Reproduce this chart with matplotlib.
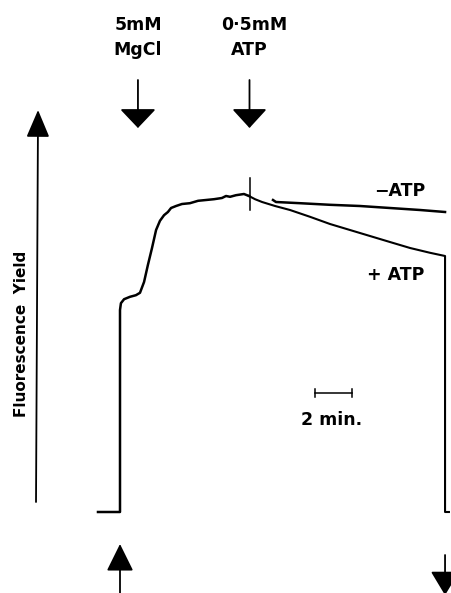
import numpy as np
import matplotlib
matplotlib.use('Agg')
import matplotlib.pyplot as plt

# time in minutes (light on at 0), fluorescence yield in arbitrary units
rise_t = [-1.19, 0.0, 0.0, 0.05, 0.22, 0.54, 0.86, 1.08, 1.30, 1.51, 1.73,
          1.95, 2.16, 2.38, 2.59, 2.76, 3.03, 3.35, 3.78, 4.22, 4.65, 5.08,
          5.51, 5.73, 5.95, 6.27, 6.70, 6.97]
rise_f = [0, 0, 50.5, 52.2, 53.2, 53.8, 54.2, 54.8, 57.5, 61.8, 66.0,
          70.5, 72.8, 74.2, 75.0, 76.0, 76.5, 77.0, 77.2, 77.8, 78.0, 78.2,
          78.5, 79.0, 78.8, 79.2, 79.5, 79.0]

plus_atp_t = [6.97, 7.30, 7.68, 8.38, 9.19, 10.27, 11.35, 12.43, 13.51,
              14.59, 15.68, 16.76, 17.57, 17.57, 17.78]
plus_atp_f = [79.0, 78.2, 77.5, 76.5, 75.5, 73.8, 72.0, 70.5, 69.0,
              67.5, 66.0, 64.8, 64.0, 0, 0]

minus_atp_t = [8.27, 8.43, 9.73, 11.35, 12.97, 14.59, 16.22, 17.57]
minus_atp_f = [78.0, 77.5, 77.2, 76.8, 76.5, 76.0, 75.5, 75.0]

mgcl_t = 0.97
atp_t = 7.0
atp_spike = [75.5, 83.5]

plt.rcParams['font.family'] = ['DejaVu Sans']

fig = plt.figure(figsize=(4.51, 5.93), dpi=100)
ax = fig.add_axes([0, 0, 1, 1])
ax.set_xlim(-120 / 18.5, 331 / 18.5)
ax.set_ylim(-81 / 4, 512 / 4)
ax.axis('off')

lw = 1.8
ax.plot(rise_t, rise_f, color='black', lw=lw, solid_joinstyle='round')
ax.plot(plus_atp_t, plus_atp_f, color='black', lw=1.5)
ax.plot(minus_atp_t, minus_atp_f, color='black', lw=lw)
ax.plot([atp_t, atp_t], atp_spike, color='black', lw=1.1)


def arrow(x0, y0, x1, y1, hl, hw, lw=1.3):
    ax.annotate('', xy=(x1, y1), xytext=(x0, y0), annotation_clip=False,
                arrowprops=dict(arrowstyle='-|>,head_length=%g,head_width=%g' % (hl, hw),
                                mutation_scale=20, lw=lw, color='black',
                                shrinkA=0, shrinkB=0))


# addition arrows at top
arrow(mgcl_t, 108, mgcl_t, 96, 0.6, 0.57)
arrow(atp_t, 108, atp_t, 96, 0.6, 0.55)
# y axis arrow
arrow(-4.54, 2.5, -4.43, 100.5, 0.85, 0.36)
# light on / light off arrows
arrow(0.0, -22, 0.0, -8, 0.85, 0.42)
arrow(17.57, -10.75, 17.57, -20.8, 0.75, 0.45)

bold = dict(fontsize=12.5, fontweight='bold', ha='center', va='center')
ax.text(mgcl_t, 121.75, '5mM', **bold)
ax.text(mgcl_t, 115.5, 'MgCl', **bold)
ax.text(7.24, 121.75, '0·5mM', **bold)
ax.text(atp_t, 115.5, 'ATP', **bold)
ax.text(15.14, 80.25, '\u2212ATP', **bold)
ax.text(14.92, 59.25, '+ ATP', **bold)

# time scale bar
ax.plot([10.54, 12.54], [29.75, 29.75], color='black', lw=1.1)
ax.plot([10.54, 10.54], [28.8, 30.7], color='black', lw=1.1)
ax.plot([12.54, 12.54], [28.8, 30.7], color='black', lw=1.1)
ax.text(11.46, 23, '2 min.', **bold)

ax.text(-5.3, 44.5, 'Fluorescence  Yield', rotation=90, fontsize=11,
        fontweight='bold', ha='center', va='center')

fig.savefig('out.png', dpi=100)
